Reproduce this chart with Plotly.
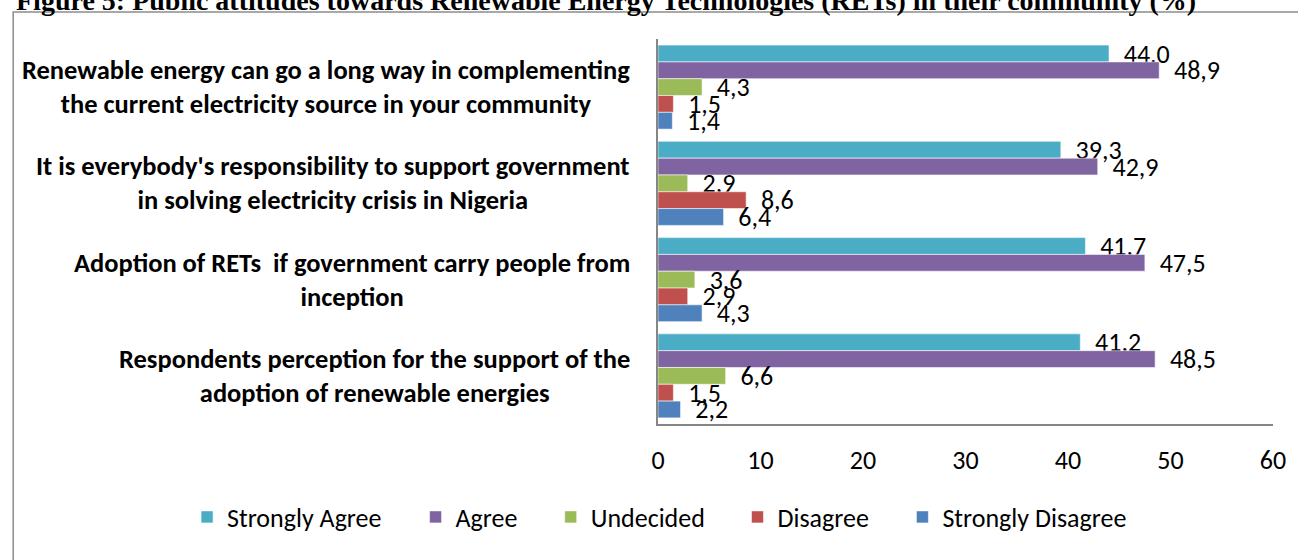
import plotly.graph_objects as go

# Survey statements (top to bottom) and responses in percent
statements = [
    "Renewable energy can go a long way in complementing<br>the current electricity source in your community",
    "It is everybody's responsibility to support government<br>in solving electricity crisis in Nigeria",
    "Adoption of RETs  if government carry people from<br>inception",
    "Respondents perception for the support of the<br>adoption of renewable energies",
]
responses = ["Strongly Agree", "Agree", "Undecided", "Disagree", "Strongly Disagree"]

strongly_agree = [44.0, 39.3, 41.7, 41.2]
agree = [48.9, 42.9, 47.5, 48.5]
undecided = [4.3, 2.9, 3.6, 6.6]
disagree = [1.5, 8.6, 2.9, 1.5]
strongly_disagree = [1.4, 6.4, 4.3, 2.2]

x_ticks = [0, 10, 20, 30, 40, 50, 60]

title_text = ("Figure 5: Public attitudes towards Renewable Energy Technologies "
              "(RETs) in their community (%)")

series = [strongly_agree, agree, undecided, disagree, strongly_disagree]
colors = ["#4BACC6", "#8064A2", "#9BBB59", "#C0504D", "#4F81BD"]

W, H = 1298, 560
L, R, T, B = 658, 21, 39, 136
PW, PH = W - L - R, H - T - B


def px_x(px):
    return (px - L) / PW


def px_y(py):
    return (H - B - py) / PH


FONT = "Carlito, Calibri, sans-serif"

# each legend entry sits in its own legend box so the spacing can follow the
# natural text widths with a wide gap between entries
legend_ids = ["legend", "legend2", "legend3", "legend4", "legend5"]
legend_left_px = [184, 414, 550, 738, 904]

fig = go.Figure()
for name, vals, col, lid in zip(responses, series, colors, legend_ids):
    fig.add_trace(go.Bar(
        y=list(range(len(statements))),
        x=vals,
        name=name,
        orientation="h",
        marker=dict(color=col, line=dict(color="rgba(255,255,255,0.55)", width=1)),
        texttemplate="\u00a0\u00a0%{x:.1f}",
        textposition="outside",
        textfont=dict(family=FONT, size=26, color="#000000"),
        constraintext="none",
        cliponaxis=False,
        legend=lid,
    ))

annotations = []
for i, s in enumerate(statements):
    annotations.append(dict(
        x=px_x(632), xref="paper", y=i, yref="y",
        text="<b>" + s + "</b>", showarrow=False,
        xanchor="right", yanchor="middle", align="center",
        font=dict(family=FONT, size=26.5, color="#000000"),
    ))

annotations.append(dict(
    x=px_x(10), xref="paper", y=px_y(0), yref="paper",
    text="<b>" + title_text + "</b>", showarrow=False,
    xanchor="left", yanchor="middle",
    font=dict(family="Liberation Serif, Times New Roman, serif", size=28, color="#000000"),
))

legend_style = dict(
    orientation="h", xanchor="left",
    y=px_y(517), yanchor="middle",
    font=dict(family=FONT, size=26, color="#000000"),
    bgcolor="rgba(0,0,0,0)",
)
legends = {lid: dict(x=px_x(lx), **legend_style)
           for lid, lx in zip(legend_ids, legend_left_px)}

fig.update_layout(
    width=W, height=H,
    margin=dict(l=L, r=R, t=T, b=B, pad=0),
    paper_bgcolor="#FFFFFF", plot_bgcolor="#FFFFFF",
    barmode="group", bargap=0.127, bargroupgap=0,
    separators=", ",
    showlegend=True,
    annotations=annotations,
    shapes=[dict(
        type="rect", xref="paper", yref="paper",
        x0=px_x(9), x1=px_x(1310), y0=px_y(600), y1=px_y(12),
        line=dict(color="#8C8C8C", width=1.5), fillcolor="rgba(0,0,0,0)",
        layer="below",
    )],
    xaxis=dict(
        range=[0, 60], tickvals=x_ticks, showgrid=False, zeroline=False,
        showline=True, linecolor="#868686", linewidth=2,
        ticks="", tickfont=dict(family=FONT, size=26, color="#000000"),
        ticklabelstandoff=12,
    ),
    yaxis=dict(
        range=[3.5, -0.5], tickvals=list(range(len(statements))),
        showticklabels=False, showgrid=False, zeroline=False,
        showline=True, linecolor="#868686", linewidth=2, ticks="",
    ),
    font=dict(family=FONT, size=22, color="#000000"),
    **legends,
)

fig.write_html("out.html")
